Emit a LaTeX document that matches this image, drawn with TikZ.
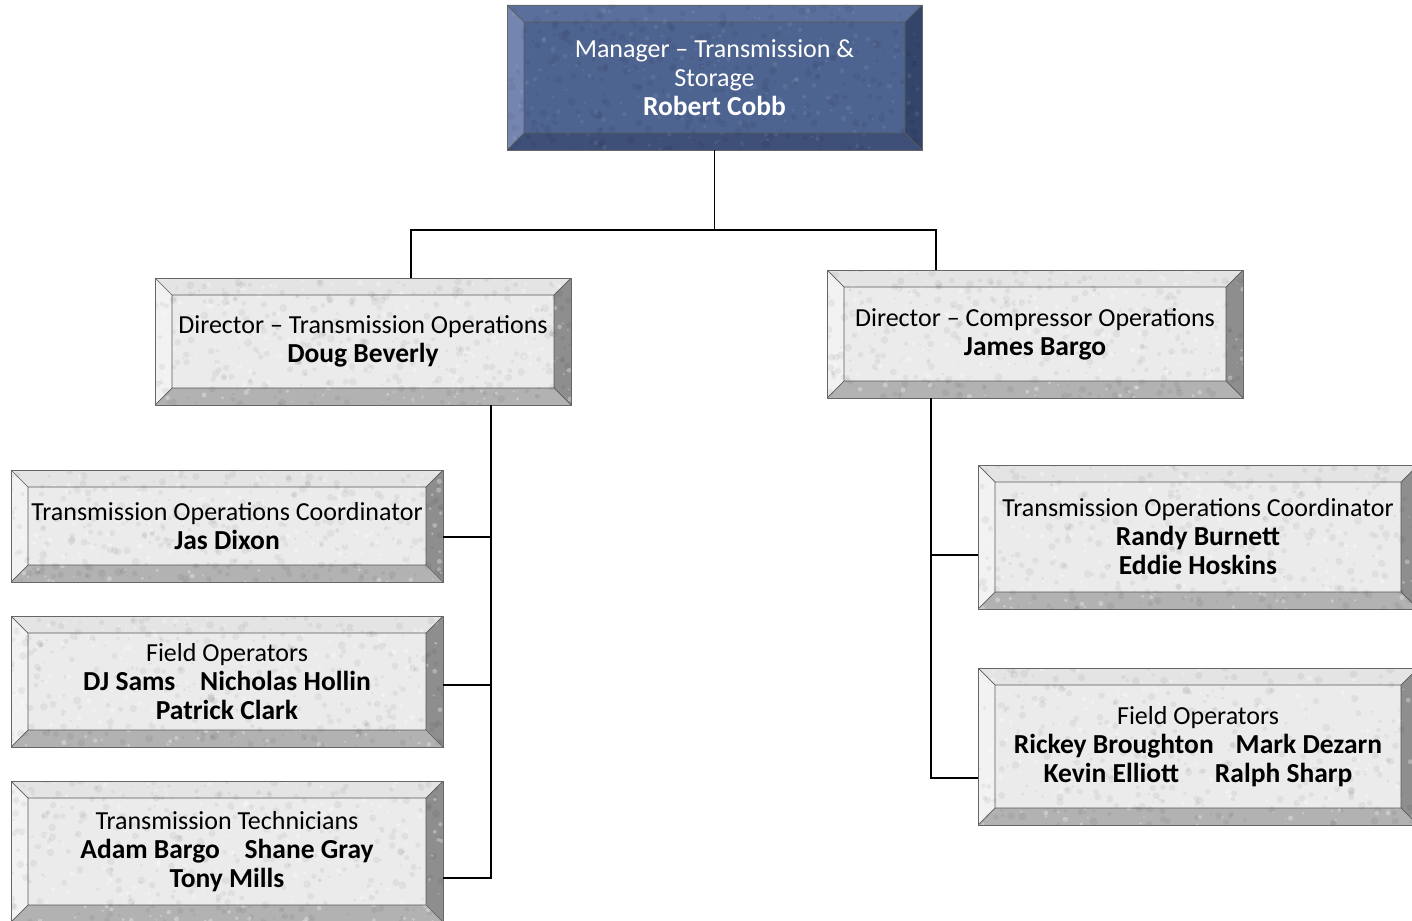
\documentclass[tikz,border=0pt]{standalone}
\usepackage{fontspec}
\setmainfont{Carlito}
\definecolor{gface}{HTML}{EBEBEB}
\definecolor{gtop}{HTML}{E4E4E4}
\definecolor{gleft}{HTML}{F2F2F2}
\definecolor{gright}{HTML}{8E8E8E}
\definecolor{gbot}{HTML}{B2B2B2}
\definecolor{bface}{HTML}{4D6390}
\definecolor{btop}{HTML}{5A6F9C}
\definecolor{bleft}{HTML}{7485B0}
\definecolor{bright}{HTML}{34456C}
\definecolor{bbot}{HTML}{3E4F78}
% beveled face: #1 face, #2 top, #3 left, #4 right, #5 bottom, #6 light speckle opacity
\newcommand\bevelfaces[6]{%
  \coordinate (bvSW) at (path picture bounding box.south west);
  \coordinate (bvNE) at (path picture bounding box.north east);
  \coordinate (bvNW) at (bvSW |- bvNE);
  \coordinate (bvSE) at (bvNE |- bvSW);
  \coordinate (bvsw) at ([shift={(17pt,17pt)}]bvSW);
  \coordinate (bvne) at ([shift={(-17pt,-17pt)}]bvNE);
  \coordinate (bvnw) at (bvsw |- bvne);
  \coordinate (bvse) at (bvne |- bvsw);
  \fill[#2] (bvNW) -- (bvNE) -- (bvne) -- (bvnw) -- cycle;
  \fill[#4] (bvNE) -- (bvSE) -- (bvse) -- (bvne) -- cycle;
  \fill[#5] (bvSE) -- (bvSW) -- (bvsw) -- (bvse) -- cycle;
  \fill[#3] (bvSW) -- (bvNW) -- (bvnw) -- (bvsw) -- cycle;
  \fill[#1] (bvsw) rectangle (bvne);
  \pgfpointdiff{\pgfpointanchor{path picture bounding box}{south west}}%
               {\pgfpointanchor{path picture bounding box}{north east}}%
  \pgfgetlastxy{\bvw}{\bvh}%
  \foreach \k in {1,...,320}{%
    \fill[black, opacity=0.05]
      ([shift={({rnd*\bvw},{rnd*\bvh})}]bvSW) circle[radius={1pt+3pt*rnd}];}
  \foreach \k in {1,...,200}{%
    \fill[white, opacity=#6]
      ([shift={({rnd*\bvw},{rnd*\bvh})}]bvSW) circle[radius={0.8pt+1.8pt*rnd}];}
  \draw[black!65, line width=0.7pt] (bvsw) rectangle (bvne)
    (bvSW) -- (bvsw) (bvSE) -- (bvse) (bvNE) -- (bvne) (bvNW) -- (bvnw);
}
\newcommand\nm[1]{{\fontsize{27.5}{29}\selectfont\bfseries #1}}
\begin{document}
\begin{tikzpicture}[x=1pt, y=-1pt,
  every node/.style={align=center, inner sep=0pt},
  box/.style={draw=black!60, line width=0.9pt, rectangle,
    font=\fontsize{26}{29}\selectfont},
  greybox/.style={box, text=black,
    path picture={\bevelfaces{gface}{gtop}{gleft}{gright}{gbot}{0.3}}},
  bluebox/.style={box, text=white,
    path picture={\bevelfaces{bface}{btop}{bleft}{bright}{bbot}{0.08}}},
  link/.style={draw=black, line width=1.4pt}]
\pgfmathsetseed{4711}
\useasboundingbox (0,0) rectangle (1412,920);
\clip (0,0) rectangle (1412,920);

\node[bluebox, minimum width=415pt, minimum height=145pt] (mgr) at (714.5,77.5)
  {Manager – Transmission \&\\Storage\\\nm{Robert Cobb}};

\node[greybox, minimum width=416pt, minimum height=127pt] (dto) at (363,341.5)
  {Director – Transmission Operations\\\nm{Doug Beverly}};
\node[greybox, minimum width=416pt, minimum height=128pt] (dco) at (1035,334)
  {Director – Compressor Operations\\\nm{James Bargo}};

\node[greybox, minimum width=432pt, minimum height=112pt] (toc1) at (227,526)
  {Transmission Operations Coordinator\\\nm{Jas Dixon}};
\node[greybox, minimum width=432pt, minimum height=131pt] (fo1) at (227,681.5)
  {Field Operators\\\nm{DJ Sams\hspace{0.9em}Nicholas Hollin}\\\nm{Patrick Clark}};
\node[greybox, minimum width=432pt, minimum height=141pt] (tt) at (227,851.5)
  {Transmission Technicians\\\nm{Adam Bargo\hspace{0.9em}Shane Gray}\\\nm{Tony Mills}};

\node[greybox, minimum width=440pt, minimum height=144pt] (toc2) at (1198,537)
  {Transmission Operations Coordinator\\\nm{Randy Burnett}\\\nm{Eddie Hoskins}};
\node[greybox, minimum width=440pt, minimum height=157pt] (fo2) at (1198,746.5)
  {Field Operators\\\nm{Rickey Broughton\hspace{0.8em}Mark Dezarn}\\\nm{Kevin Elliott\hspace{1.3em}Ralph Sharp}};

% reporting lines
\coordinate (bus) at (714.5,230);
\draw[link] (mgr.south) -- (bus);
\draw[link] (bus) -| ([xshift=48pt]dto.north);
\draw[link] (bus) -| ([xshift=-99pt]dco.north);

\draw[link] ([xshift=128pt]dto.south) |- ([yshift=-11pt]toc1.east);
\draw[link] ([xshift=128pt]dto.south) |- ([yshift=-3.5pt]fo1.east);
\draw[link] ([xshift=128pt]dto.south) |- ([yshift=-26.5pt]tt.east);

\draw[link] ([xshift=-104pt]dco.south) |- ([yshift=-18pt]toc2.west);
\draw[link] ([xshift=-104pt]dco.south) |- ([yshift=-31.5pt]fo2.west);
\end{tikzpicture}
\end{document}
